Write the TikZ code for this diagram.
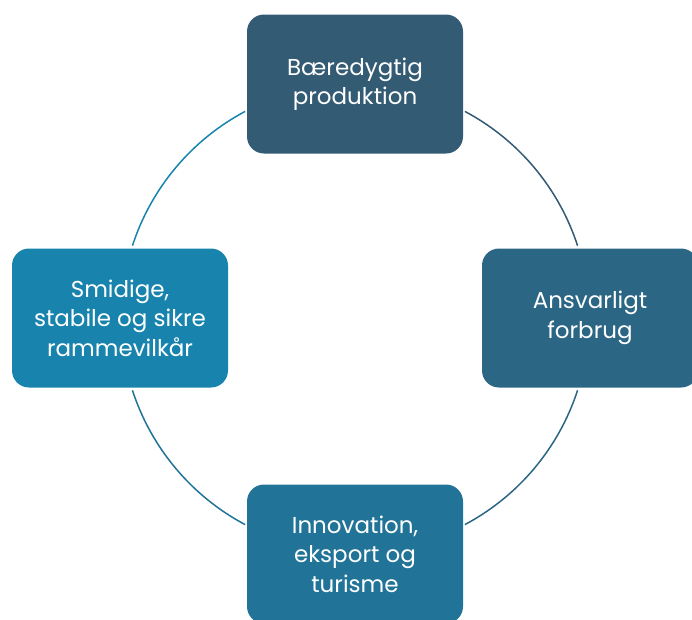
\documentclass[tikz,border=0pt]{standalone}
\usepackage{fontspec}
\setmainfont{Poppins}
\usepackage{tikz}
\usetikzlibrary{positioning}

\definecolor{topblue}{RGB}{51,91,116}
\definecolor{rightblue}{RGB}{43,103,133}
\definecolor{bottomblue}{RGB}{33,116,152}
\definecolor{leftblue}{RGB}{24,132,174}

\begin{document}
\begin{tikzpicture}[x=1pt, y=1pt,
        box/.style={rectangle, rounded corners=17pt, minimum width=216pt, minimum height=139pt,
            inner sep=0pt, align=center, text=white, font=\fontsize{23}{29.5}\selectfont},
        ring/.style={line width=1.5pt}]

        \useasboundingbox (0, 0) rectangle (692, -619);

        \coordinate (centre) at (355, -318);

        % arcs of the cycle, each in the colour of the box it leaves
        \draw[ring, topblue] ([shift={(62:234)}]centre) arc[start angle=62, end angle=18, radius=234];
        \draw[ring, rightblue] ([shift={(-18:234)}]centre) arc[start angle=-18, end angle=-62, radius=234];
        \draw[ring, bottomblue] ([shift={(-118:234)}]centre) arc[start angle=-118, end angle=-162, radius=234];
        \draw[ring, leftblue] ([shift={(162:234)}]centre) arc[start angle=162, end angle=118, radius=234];

        \node[box, fill=topblue] (production) at (355, -84) {Bæredygtig\\produktion};
        \node[box, fill=rightblue] (consumption) at (590, -318) {Ansvarligt\\forbrug};
        \node[box, fill=bottomblue] (innovation) at (355, -554) {Innovation,\\eksport og\\turisme};
        \node[box, fill=leftblue] (framework) at (120, -318) {Smidige,\\stabile og sikre\\rammevilkår};

    \end{tikzpicture}
\end{document}
